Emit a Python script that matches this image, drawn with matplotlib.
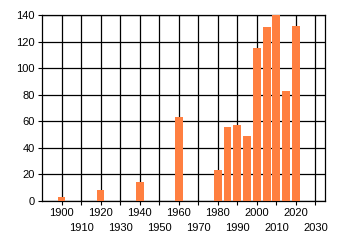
import matplotlib.pyplot as plt
from matplotlib.ticker import MultipleLocator, FixedLocator, FixedFormatter

# ====== DATA ======
years  = [1900, 1920, 1940, 1960, 1980, 1985, 1990, 1995, 2000, 2005, 2010, 2015, 2020]
values = [3, 8, 14, 63, 23, 56, 57, 49, 115, 131, 141, 83, 132]

major_years = list(range(1900, 2021, 20))
minor_years = list(range(1910, 2031, 20))

BAR_COLOR = "#FF7F40"

plt.rcParams["font.family"] = ["Liberation Sans", "DejaVu Sans"]

fig = plt.figure(figsize=(3.4, 2.45), dpi=100)
ax = fig.add_axes([0.1235, 0.18, 0.833, 0.759])

ax.bar(years, values, width=4, color=BAR_COLOR, zorder=3)

ax.set_xlim(1890, 2035)
ax.set_ylim(0, 140)
ax.yaxis.set_major_locator(MultipleLocator(20))

# staggered x labels: even decades on first row, odd on second
ax.xaxis.set_major_locator(FixedLocator(major_years))
ax.xaxis.set_major_formatter(FixedFormatter([str(y) for y in major_years]))
ax.xaxis.set_minor_locator(FixedLocator(minor_years))
ax.xaxis.set_minor_formatter(FixedFormatter([str(y) for y in minor_years]))

ax.tick_params(axis="both", which="both", length=3, width=0.8, color="black",
               labelsize=8, labelcolor="black")
ax.tick_params(axis="x", which="major", pad=2)
ax.tick_params(axis="x", which="minor", pad=13)
ax.tick_params(axis="y", pad=2)

ax.grid(True, which="both", color="black", linewidth=0.9, zorder=0)
ax.set_axisbelow(True)
for s in ax.spines.values():
    s.set_color("black")
    s.set_linewidth(0.9)

fig.savefig("out.png", dpi=100)
plt.close(fig)
